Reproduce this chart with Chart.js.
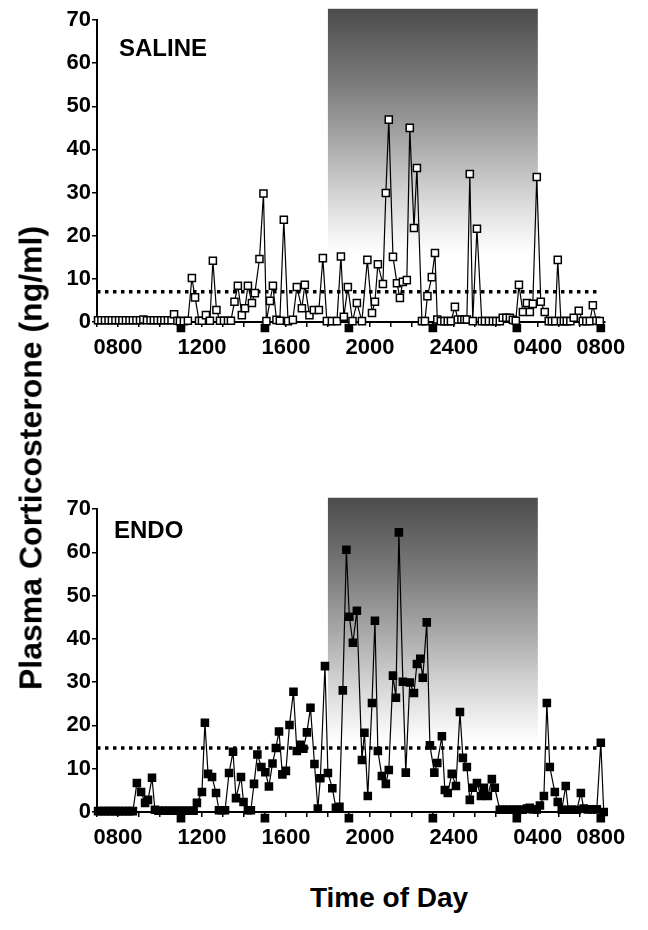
<!DOCTYPE html>
<html>
<head>
<meta charset="utf-8">
<title>Plasma corticosterone, saline vs endo</title>
<script src="https://cdn.jsdelivr.net/npm/chart.js@4.4.1/dist/chart.umd.min.js"></script>
<style>
body { margin: 0; background: #fff; }
#page { position: relative; width: 648px; height: 930px; font-family: "Liberation Sans", Arial, sans-serif; font-weight: bold; color: #000; }
canvas { position: absolute; left: 0; }
#saline-chart { top: 0; }
#endo-chart { top: 480px; }
.panel-label { position: absolute; font-size: 24px; line-height: 24px; }
#y-title { position: absolute; left: 31px; top: 458px; transform: translate(-50%, -50%) rotate(-90deg); white-space: nowrap; font-size: 32px; }
#x-title { position: absolute; left: 389px; top: 898px; transform: translate(-50%, -50%); white-space: nowrap; font-size: 28px; }
</style>
</head>
<body>
<div id="page">
  <canvas id="saline-chart" width="648" height="370"></canvas>
  <canvas id="endo-chart" width="648" height="380"></canvas>
  <div class="panel-label" style="left:119px; top:36px;">SALINE</div>
  <div class="panel-label" style="left:114px; top:518px;">ENDO</div>
  <div id="y-title">Plasma Corticosterone (ng/ml)</div>
  <div id="x-title">Time of Day</div>
</div>
<script>
let salineHours = [0.05, 0.21, 0.38, 0.55, 0.71, 0.88, 1.05, 1.21, 1.38, 1.55, 1.71, 1.88, 2.05, 2.21, 2.38, 2.55, 2.71, 2.88, 3.05, 3.21, 3.38, 3.55,
    3.67, 3.83, 3.95, 4.14, 4.33, 4.52, 4.67, 4.86, 5.0, 5.19, 5.38, 5.52, 5.69, 5.86, 6.05, 6.24, 6.38, 6.55, 6.71, 6.9,
    7.05, 7.19, 7.38, 7.52, 7.74, 7.93, 8.07, 8.24, 8.38, 8.55, 8.71, 8.9, 9.1, 9.33, 9.52, 9.76, 9.9, 10.12, 10.33, 10.57,
    10.76, 10.95, 11.19, 11.43, 11.62, 11.76, 11.95, 12.17, 12.38, 12.62, 12.88, 13.1, 13.24, 13.38, 13.62, 13.76, 13.9, 14.1,
    14.29, 14.43, 14.57, 14.76, 14.9, 15.1, 15.24, 15.48, 15.62, 15.74, 15.95, 16.1, 16.21, 16.38, 16.55, 16.71, 16.86,
    17.05, 17.19, 17.36, 17.5, 17.62, 17.76, 17.9, 18.1, 18.33, 18.48, 18.67, 18.86, 19.02, 19.19, 19.33, 19.5, 19.67, 19.81,
    19.95, 20.1, 20.29, 20.48, 20.62, 20.76, 20.95, 21.14, 21.33, 21.52, 21.67, 21.83, 21.95, 22.1, 22.24, 22.38, 22.55,
    22.71, 22.95, 23.14, 23.31, 23.48, 23.62, 23.79, 23.95]
let salineValues = [0.4, 0.4, 0.4, 0.4, 0.4, 0.4, 0.4, 0.4, 0.4, 0.4, 0.4, 0.4, 0.4, 0.6, 0.4, 0.4, 0.4, 0.4, 0.4, 0.4, 0.4, 0.4,
    1.8, 0.3, 0.2, 0.2, 0.3, 10.2, 5.7, 0.3, 0.3, 1.6, 0.3, 14.2, 2.8, 0.3, 0.3, 0.3, 0.3, 4.7, 8.4, 1.6,
    3.2, 8.4, 4.4, 6.7, 14.6, 29.8, 0.2, 4.9, 8.4, 0.5, 0.3, 23.7, 0.2, 0.5, 8.1, 3.2, 8.6, 1.6, 2.8, 2.8,
    14.8, 0.2, 0.2, 0.2, 15.2, 1.2, 8.1, 0.2, 4.4, 0.2, 14.4, 2.1, 4.7, 13.4, 8.8, 29.9, 46.9, 15.1,
    9.0, 5.6, 9.3, 9.7, 45.0, 21.8, 35.7, 0.2, 0.2, 6.0, 10.4, 16.0, 0.6, 0.2, 0.2, 0.2, 0.2,
    3.5, 0.6, 0.6, 0.6, 0.6, 34.3, 0.2, 21.6, 0.2, 0.2, 0.2, 0.2, 0.2, 0.2, 1.0, 1.0, 1.0, 0.5,
    0.3, 8.6, 2.3, 4.4, 2.3, 4.2, 33.6, 4.7, 2.3, 0.2, 0.2, 0.2, 14.4, 0.2, 0.2, 0.2, 0.2,
    1.0, 2.6, 0.2, 0.2, 0.2, 3.9, 0.3, 0.2]

let endoHours = [0.05, 0.21, 0.38, 0.55, 0.71, 0.88, 1.05, 1.21, 1.38, 1.55, 1.71,
    1.9, 2.1, 2.29, 2.43, 2.62, 2.76,
    2.93, 3.1, 3.26, 3.43, 3.6, 3.76, 3.93, 4.1, 4.26, 4.43, 4.6,
    4.76, 5.0, 5.14, 5.29, 5.48, 5.67, 5.81, 5.95, 6.1, 6.29, 6.48, 6.62, 6.86, 6.98, 7.19, 7.33, 7.48, 7.64, 7.83,
    8.02, 8.19, 8.36, 8.52, 8.67, 8.83, 9.0, 9.17, 9.36, 9.52, 9.69, 9.83, 10.0, 10.17, 10.36, 10.52, 10.64, 10.86,
    11.0, 11.21, 11.38, 11.55, 11.71, 11.88, 12.02, 12.19, 12.38, 12.62, 12.74, 12.9, 13.1, 13.24, 13.38, 13.57, 13.76,
    13.9, 14.1, 14.24, 14.38, 14.57, 14.71, 14.9, 15.1, 15.24, 15.4, 15.52, 15.71, 15.86, 16.07, 16.21, 16.43, 16.57,
    16.71, 16.9, 17.1, 17.29, 17.43, 17.62, 17.76, 17.9, 18.1, 18.29, 18.43, 18.62, 18.81, 18.95, 19.19, 19.33, 19.52,
    19.67, 19.81, 20.0, 20.14, 20.29, 20.48, 20.62, 20.76, 20.95, 21.1, 21.29, 21.43, 21.57, 21.81, 21.95, 22.14, 22.33,
    22.45, 22.62, 22.86, 23.05, 23.19, 23.38, 23.57, 23.81, 24.0, 24.14]
let endoValues = [0.2, 0.2, 0.2, 0.2, 0.2, 0.2, 0.2, 0.2, 0.2, 0.2, 0.2,
    6.7, 4.6, 2.1, 2.8, 7.9, 0.5,
    0.3, 0.3, 0.3, 0.3, 0.3, 0.3, 0.3, 0.3, 0.3, 0.3, 0.3,
    2.1, 4.6, 20.6, 8.8, 8.1, 4.4, 0.4, 0.4, 0.4, 9.0, 13.9, 3.2, 8.1, 2.3, 0.4, 0.4, 6.5, 13.3, 10.4,
    9.2, 5.9, 11.2, 14.8, 18.6, 8.7, 9.5, 20.1, 27.8, 14.1, 15.5, 14.6, 18.4, 24.1, 11.1, 0.8, 7.8, 33.7,
    9.0, 5.5, 1.0, 1.2, 28.1, 60.6, 45.1, 39.1, 46.5, 12.0, 18.3, 3.7, 25.2, 44.2, 14.1, 8.3, 6.5,
    9.7, 31.5, 26.4, 64.6, 30.1, 9.1, 29.9, 27.5, 34.2, 35.4, 31.0, 43.8, 15.4, 9.1, 11.3, 17.5, 5.1,
    4.4, 8.8, 6.0, 23.1, 12.5, 10.4, 2.8, 5.6, 6.7, 3.7, 5.6, 3.7, 7.6, 5.6, 0.5, 0.5, 0.5,
    0.5, 0.5, 0.5, 0.5, 0.5, 0.8, 1.0, 0.6, 0.6, 1.5, 3.7, 25.2, 10.4, 4.6, 2.3, 0.5, 6.0,
    0.5, 0.5, 0.5, 4.4, 0.8, 0.6, 0.6, 0.6, 16.0, 0.0]

// dotted reference line of each panel
let salineThreshold = 7.0
let endoThreshold = 14.8

// filled squares sitting just under the time axis
let markerHours = [4, 8, 12, 16, 20, 24]
let markerLevel = -1.4

// labelled ticks on the time axis
let tickHours = [1, 5, 9, 13, 17, 21, 24]
let tickLabels = ['0800', '1200', '1600', '2000', '2400', '0400', '0800']

// dark phase 1800 - 0400, shaded from top fading out downwards
let nightStart = 11
let nightEnd = 21
let shadeTop = 72.6
let shadeBottom = 16

Chart.defaults.font.family = '"Liberation Sans", Arial, sans-serif'
Chart.defaults.color = '#000'

function toPoints(xs, ys) {
    return xs.map((x, i) => ({ x: x, y: ys[i] }))
}

let nightShade = {
    id: 'nightShade',
    beforeDatasetsDraw(chart) {
        let ctx = chart.ctx
        let x = chart.scales.x
        let y = chart.scales.y
        let left = x.getPixelForValue(nightStart)
        let right = x.getPixelForValue(nightEnd)
        let top = y.getPixelForValue(shadeTop)
        let bottom = y.getPixelForValue(shadeBottom)
        let grad = ctx.createLinearGradient(0, top, 0, bottom)
        grad.addColorStop(0, '#4c4c4c')
        grad.addColorStop(0.3, '#7a7a7a')
        grad.addColorStop(0.55, '#a9a9a9')
        grad.addColorStop(0.75, '#d2d2d2')
        grad.addColorStop(0.9, '#eeeeee')
        grad.addColorStop(1, '#ffffff')
        ctx.save()
        ctx.fillStyle = grad
        ctx.fillRect(left, top, right - left, bottom - top)
        ctx.restore()
    }
}

function makePanel(canvasId, hours, values, threshold, filled, topPad) {
    let ctx = document.querySelector(canvasId).getContext('2d')
    return new Chart(ctx, {
        type: 'scatter',
        data: {
            datasets: [
                {
                    data: toPoints(hours, values),
                    showLine: true,
                    borderColor: '#000',
                    borderWidth: 1.2,
                    pointStyle: 'rect',
                    pointRadius: 5,
                    pointBackgroundColor: filled ? '#000' : '#fff',
                    pointBorderColor: '#000',
                    pointBorderWidth: 1.5,
                    clip: false
                },
                {
                    // small radius + thick border keeps the square inside the point drawing margin
                    data: markerHours.map(h => ({ x: h, y: markerLevel })),
                    pointStyle: 'rect',
                    pointRadius: 4,
                    pointBorderWidth: 3,
                    pointBackgroundColor: '#000',
                    pointBorderColor: '#000',
                    clip: false
                },
                {
                    data: [{ x: 0, y: threshold }, { x: 24, y: threshold }],
                    showLine: true,
                    borderColor: '#000',
                    borderWidth: 3.5,
                    borderDash: [3.5, 4.5],
                    pointRadius: 0
                }
            ]
        },
        options: {
            responsive: false,
            animation: false,
            events: [],
            layout: { padding: { left: 0, right: 43, top: topPad, bottom: 0 } },
            plugins: { legend: { display: false }, tooltip: { enabled: false } },
            scales: {
                x: {
                    type: 'linear',
                    min: 0,
                    max: 24.2,
                    border: { color: '#000', width: 2 },
                    grid: { drawOnChartArea: false, tickLength: 5, color: '#000', lineWidth: 1.5 },
                    afterBuildTicks: scale => {
                        let ticks = []
                        for (let h = 0; h <= 24; h++) ticks.push({ value: h })
                        scale.ticks = ticks
                    },
                    ticks: {
                        autoSkip: false,
                        maxRotation: 0,
                        padding: 8,
                        font: { size: 22, weight: 'bold' },
                        callback: v => {
                            let i = tickHours.indexOf(v)
                            return i < 0 ? '' : tickLabels[i]
                        }
                    },
                    afterFit: scale => { scale.height = 48 }
                },
                y: {
                    min: 0,
                    max: 70,
                    border: { color: '#000', width: 2 },
                    grid: { drawOnChartArea: false, tickLength: 5, color: '#000', lineWidth: 1.5 },
                    ticks: { stepSize: 10, padding: 1, font: { size: 22, weight: 'bold' } },
                    afterFit: scale => { scale.width = 97 }
                }
            }
        },
        plugins: [nightShade]
    })
}

let salineChart = makePanel('#saline-chart', salineHours, salineValues, salineThreshold, false, 20)
let endoChart = makePanel('#endo-chart', endoHours, endoValues, endoThreshold, true, 29)
</script>
</body>
</html>
